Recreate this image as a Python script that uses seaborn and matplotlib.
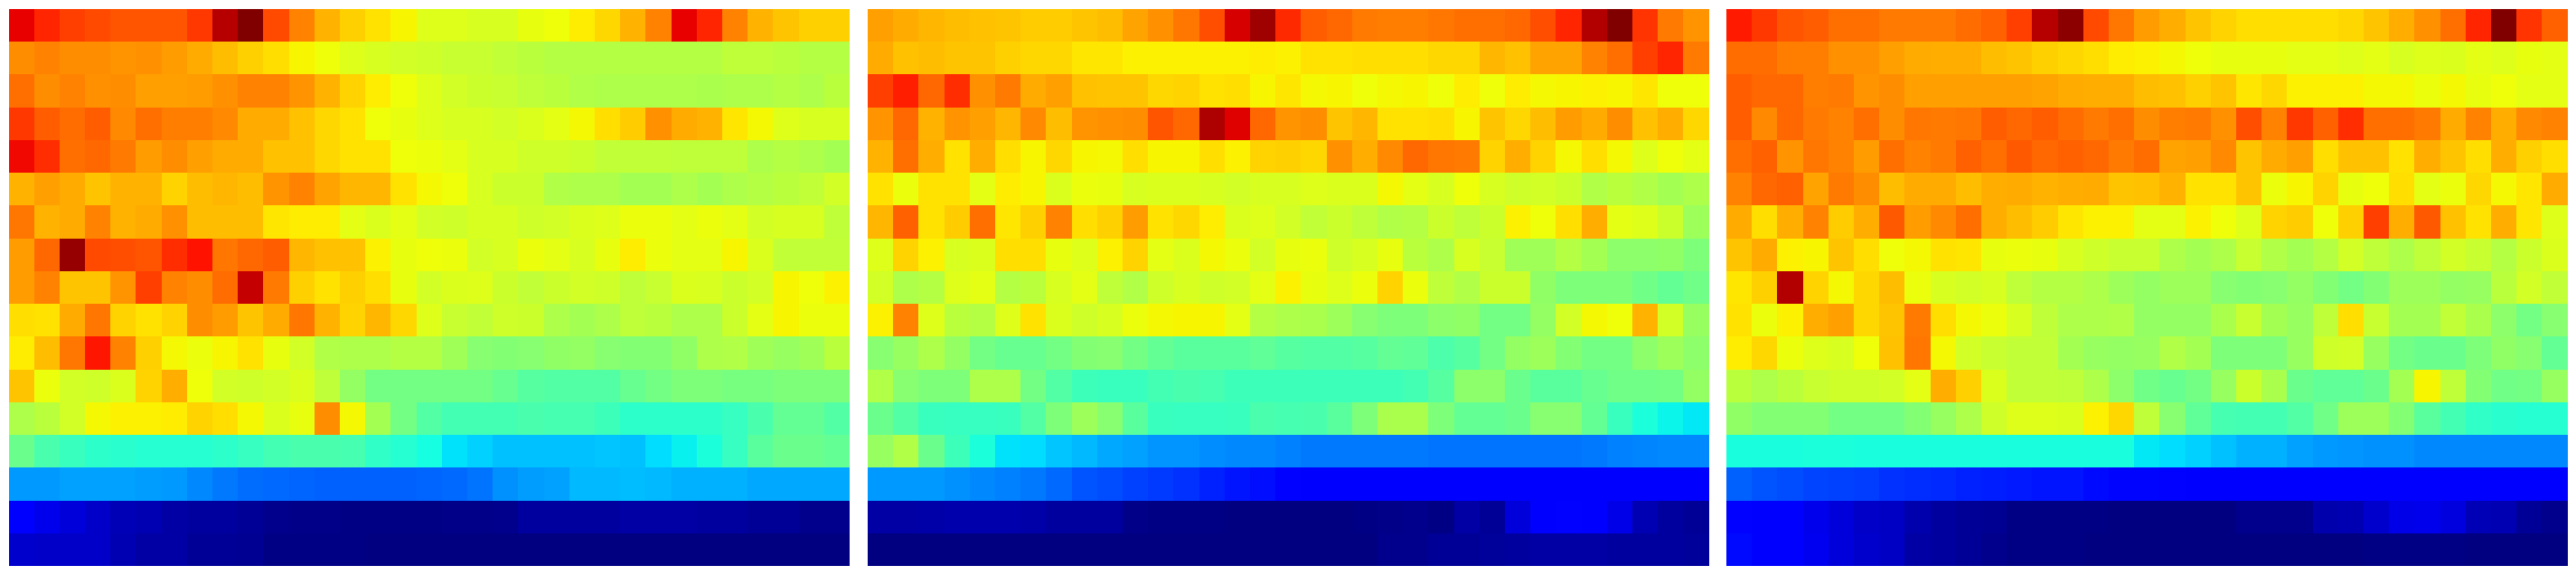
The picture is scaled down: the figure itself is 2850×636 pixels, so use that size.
import matplotlib
matplotlib.use("Agg")
import matplotlib.pyplot as plt
import pandas as pd
import seaborn as sns

# values, 0-1 on the jet scale, rows top to bottom
panel_a = [
    [.91,.87,.84,.83,.82,.82,.82,.85,.95,1.0,.83,.77,.72,.69,.67,.65,.62,.62,.61,.61,.63,.64,.66,.68,.72,.77,.91,.87,.77,.72,.70,.69,.69],
    [.76,.77,.76,.76,.75,.755,.745,.73,.71,.69,.675,.65,.64,.62,.61,.605,.60,.59,.59,.585,.575,.57,.57,.57,.57,.57,.57,.57,.58,.58,.575,.57,.57],
    [.79,.76,.77,.755,.76,.74,.74,.745,.755,.77,.77,.75,.72,.685,.66,.64,.62,.605,.595,.59,.58,.575,.565,.56,.56,.56,.56,.555,.56,.56,.57,.56,.575],
    [.85,.81,.795,.81,.765,.79,.775,.775,.765,.73,.73,.705,.68,.67,.64,.63,.62,.61,.61,.605,.615,.625,.645,.675,.695,.755,.73,.72,.665,.645,.62,.61,.61],
    [.90,.86,.79,.80,.78,.745,.76,.74,.73,.73,.705,.705,.68,.67,.67,.64,.635,.625,.61,.61,.60,.60,.595,.585,.585,.585,.58,.58,.58,.56,.57,.56,.55],
    [.72,.74,.73,.70,.72,.72,.685,.71,.715,.71,.75,.77,.735,.715,.715,.67,.645,.64,.61,.595,.595,.565,.56,.56,.55,.55,.56,.55,.56,.57,.575,.585,.605],
    [.785,.72,.73,.77,.72,.73,.755,.71,.71,.71,.665,.66,.66,.625,.615,.625,.605,.60,.61,.61,.60,.605,.615,.62,.635,.635,.625,.635,.625,.605,.61,.61,.58],
    [.745,.80,.98,.83,.825,.82,.86,.89,.785,.80,.81,.715,.705,.705,.655,.63,.64,.635,.605,.61,.635,.625,.61,.63,.66,.635,.625,.625,.65,.615,.585,.585,.585],
    [.745,.77,.70,.70,.75,.84,.77,.76,.795,.94,.78,.69,.67,.69,.675,.63,.605,.615,.62,.595,.585,.595,.605,.60,.58,.59,.615,.61,.595,.605,.65,.64,.655],
    [.675,.67,.73,.785,.685,.67,.685,.76,.745,.70,.73,.785,.72,.685,.715,.68,.62,.59,.585,.60,.595,.56,.55,.56,.58,.575,.56,.56,.595,.625,.65,.635,.635],
    [.66,.71,.785,.885,.77,.69,.645,.635,.65,.67,.63,.605,.565,.56,.56,.57,.57,.545,.515,.51,.515,.525,.53,.515,.51,.51,.525,.56,.565,.545,.535,.545,.575],
    [.70,.635,.605,.60,.615,.685,.725,.64,.605,.60,.605,.615,.58,.53,.49,.49,.49,.49,.49,.475,.455,.45,.45,.45,.475,.49,.50,.50,.495,.495,.50,.50,.50],
    [.56,.575,.605,.645,.655,.655,.66,.685,.675,.645,.615,.63,.76,.645,.55,.49,.45,.43,.43,.43,.44,.435,.435,.425,.405,.405,.405,.405,.415,.44,.47,.47,.45],
    [.48,.44,.42,.405,.40,.395,.395,.395,.405,.415,.43,.44,.44,.435,.41,.395,.375,.345,.33,.315,.315,.315,.315,.32,.315,.34,.36,.385,.415,.46,.48,.48,.47],
    [.274,.274,.282,.282,.282,.278,.274,.258,.245,.232,.227,.223,.22,.22,.22,.22,.223,.227,.24,.266,.278,.285,.305,.305,.31,.305,.30,.30,.297,.29,.29,.29,.29],
    [.11,.095,.08,.065,.05,.045,.035,.03,.028,.02,.015,.01,.01,.007,.007,.007,.007,.01,.01,.015,.03,.03,.03,.03,.035,.035,.035,.03,.028,.02,.02,.015,.015],
    [.07,.065,.065,.065,.045,.035,.035,.02,.02,.017,.007,.007,.007,.004,.002,.002,0,0,0,0,0,0,0,0,0,0,0,0,0,0,0,0,0],
]

panel_b = [
    [.74,.73,.715,.71,.705,.70,.695,.695,.70,.71,.735,.755,.785,.825,.925,.97,.865,.81,.80,.78,.775,.775,.785,.79,.79,.80,.825,.87,.955,1.0,.855,.78,.75],
    [.73,.705,.71,.70,.70,.69,.68,.68,.665,.665,.655,.655,.655,.655,.655,.66,.655,.67,.67,.675,.675,.675,.68,.68,.715,.705,.735,.735,.77,.79,.84,.87,.78],
    [.84,.875,.80,.86,.755,.78,.73,.74,.705,.70,.70,.68,.685,.67,.675,.65,.665,.645,.65,.64,.645,.65,.64,.66,.64,.66,.645,.65,.655,.65,.665,.64,.64],
    [.75,.80,.72,.75,.74,.715,.765,.71,.75,.755,.76,.82,.80,.96,.915,.80,.75,.76,.70,.715,.67,.67,.675,.65,.70,.68,.71,.745,.73,.76,.705,.725,.68],
    [.72,.79,.725,.67,.725,.675,.65,.68,.65,.645,.675,.65,.65,.675,.655,.685,.69,.68,.755,.725,.765,.80,.785,.78,.685,.725,.685,.645,.675,.645,.62,.64,.625],
    [.67,.635,.67,.67,.625,.66,.65,.615,.635,.63,.61,.615,.615,.61,.605,.61,.61,.62,.615,.615,.645,.625,.61,.64,.61,.60,.605,.595,.565,.575,.565,.55,.56],
    [.715,.805,.67,.695,.79,.665,.69,.77,.675,.69,.745,.67,.68,.66,.615,.62,.605,.585,.595,.58,.565,.57,.595,.58,.595,.655,.64,.675,.725,.625,.62,.595,.54],
    [.62,.685,.655,.61,.615,.675,.675,.63,.62,.655,.685,.625,.615,.645,.635,.605,.63,.635,.60,.61,.63,.575,.56,.61,.59,.545,.545,.57,.55,.52,.52,.525,.50],
    [.605,.56,.57,.62,.625,.57,.575,.61,.625,.58,.565,.60,.61,.60,.605,.625,.655,.63,.62,.635,.685,.635,.58,.565,.595,.595,.525,.50,.50,.50,.485,.47,.485],
    [.655,.77,.62,.575,.57,.62,.67,.615,.60,.61,.635,.645,.65,.65,.625,.57,.56,.555,.54,.515,.50,.50,.52,.525,.49,.49,.53,.605,.645,.64,.72,.605,.535],
    [.515,.535,.56,.53,.49,.475,.475,.49,.51,.515,.49,.47,.46,.46,.46,.465,.455,.45,.45,.455,.47,.465,.445,.455,.49,.53,.54,.51,.49,.49,.52,.54,.52],
    [.565,.515,.50,.50,.56,.56,.49,.45,.425,.42,.42,.43,.44,.435,.425,.425,.425,.425,.425,.425,.425,.43,.455,.52,.52,.48,.46,.46,.475,.485,.485,.49,.53],
    [.48,.45,.42,.415,.415,.42,.45,.50,.54,.515,.46,.42,.415,.415,.42,.44,.435,.44,.46,.50,.555,.555,.50,.47,.47,.48,.515,.515,.47,.42,.385,.365,.355],
    [.535,.565,.48,.425,.385,.345,.34,.32,.305,.29,.282,.27,.27,.265,.258,.258,.25,.245,.245,.245,.243,.243,.24,.24,.24,.24,.24,.24,.243,.25,.255,.258,.258],
    [.274,.274,.274,.266,.258,.25,.243,.227,.21,.20,.19,.18,.175,.16,.145,.14,.125,.11,.11,.11,.11,.11,.11,.11,.11,.11,.11,.11,.11,.11,.11,.11,.11],
    [.035,.035,.038,.04,.04,.04,.038,.03,.03,.028,.01,.007,.004,.004,.002,0,0,0,0,.004,.01,.015,.007,.035,.02,.08,.11,.125,.11,.09,.045,.03,.02],
    [.002,.002,.002,.002,.002,.002,.002,.002,.002,.002,.002,.002,.002,.002,.002,.002,.002,.002,.002,.002,.015,.015,.02,.022,.025,.03,.035,.035,.033,.03,.028,.028,.025],
]

panel_c = [
    [.88,.85,.82,.81,.79,.79,.78,.78,.78,.795,.805,.84,.95,.985,.83,.785,.745,.725,.70,.685,.675,.675,.675,.675,.68,.70,.725,.755,.79,.87,1.0,.855,.805],
    [.795,.795,.775,.775,.755,.755,.74,.73,.725,.725,.71,.70,.69,.68,.675,.66,.655,.645,.64,.63,.63,.63,.625,.625,.62,.625,.61,.62,.615,.625,.62,.63,.625],
    [.81,.80,.80,.775,.78,.75,.76,.74,.74,.74,.74,.74,.735,.73,.725,.725,.71,.705,.69,.70,.665,.68,.655,.655,.655,.645,.645,.635,.645,.63,.64,.625,.625],
    [.81,.765,.80,.78,.77,.79,.76,.785,.78,.785,.81,.80,.81,.795,.78,.79,.76,.775,.78,.755,.825,.77,.85,.805,.86,.79,.79,.78,.73,.77,.725,.765,.77],
    [.79,.805,.75,.785,.77,.745,.79,.77,.78,.805,.79,.815,.80,.805,.80,.78,.795,.735,.74,.765,.70,.73,.74,.675,.705,.705,.67,.725,.70,.675,.725,.69,.675],
    [.77,.80,.805,.735,.78,.76,.71,.73,.73,.71,.725,.73,.72,.725,.73,.70,.705,.72,.67,.67,.70,.635,.65,.685,.63,.64,.675,.625,.635,.68,.645,.665,.73],
    [.73,.675,.725,.77,.695,.725,.815,.745,.765,.79,.725,.71,.695,.665,.655,.655,.625,.625,.655,.64,.62,.685,.695,.64,.69,.84,.725,.815,.705,.67,.725,.665,.62],
    [.70,.73,.655,.65,.70,.675,.64,.645,.67,.665,.63,.635,.63,.61,.60,.59,.59,.56,.55,.56,.59,.565,.55,.57,.605,.58,.56,.58,.605,.59,.57,.595,.615],
    [.665,.69,.955,.685,.645,.68,.71,.635,.61,.605,.61,.58,.57,.57,.56,.54,.53,.54,.54,.515,.51,.515,.53,.51,.49,.51,.54,.54,.53,.535,.575,.605,.585],
    [.67,.635,.655,.725,.74,.68,.70,.78,.675,.645,.635,.61,.58,.56,.56,.565,.53,.53,.53,.555,.59,.55,.535,.58,.675,.59,.55,.55,.585,.555,.52,.49,.515],
    [.66,.68,.635,.62,.61,.64,.705,.785,.645,.605,.59,.585,.585,.55,.535,.53,.535,.565,.55,.50,.50,.50,.535,.60,.605,.535,.49,.48,.48,.50,.525,.515,.47],
    [.575,.56,.575,.59,.60,.60,.605,.625,.725,.69,.615,.585,.585,.58,.56,.52,.485,.475,.49,.535,.595,.555,.48,.465,.465,.48,.55,.65,.58,.51,.485,.49,.535],
    [.525,.51,.51,.51,.49,.49,.49,.51,.535,.56,.60,.62,.62,.615,.655,.68,.58,.515,.465,.435,.43,.43,.45,.485,.54,.54,.51,.46,.43,.41,.40,.395,.395],
    [.38,.38,.38,.385,.385,.38,.38,.38,.38,.38,.38,.38,.38,.38,.38,.38,.355,.34,.33,.315,.30,.297,.282,.274,.27,.266,.266,.258,.258,.258,.258,.258,.258],
    [.22,.21,.20,.195,.19,.185,.175,.17,.165,.16,.155,.15,.145,.145,.135,.13,.13,.125,.11,.11,.11,.11,.11,.11,.11,.11,.11,.11,.11,.11,.11,.11,.11],
    [.125,.11,.11,.095,.08,.065,.06,.04,.03,.02,.018,.007,.007,.004,.004,.002,0,0,0,0,.015,.015,.012,.04,.045,.07,.09,.095,.085,.05,.045,.02,.015],
    [.135,.115,.11,.10,.08,.07,.06,.035,.028,.02,.015,.007,.007,.004,.002,0,0,0,0,0,.002,.002,.002,.002,.002,.004,.004,.004,.004,.003,.003,.002,.002],
]

panels = [panel_a, panel_b, panel_c]
left_edges = [9.5, 960, 1910]

W, H = 2850, 636
fig = plt.figure(figsize=(W / 100, H / 100), dpi=100)

for data, x0 in zip(panels, left_edges):
    ax = fig.add_axes([x0 / W, 1 - 626 / H, 930.5 / W, 616 / H])
    sns.heatmap(pd.DataFrame(data), ax=ax, cmap="jet", vmin=0, vmax=1,
                cbar=False, xticklabels=False, yticklabels=False)

fig.savefig("out.png", dpi=100)
